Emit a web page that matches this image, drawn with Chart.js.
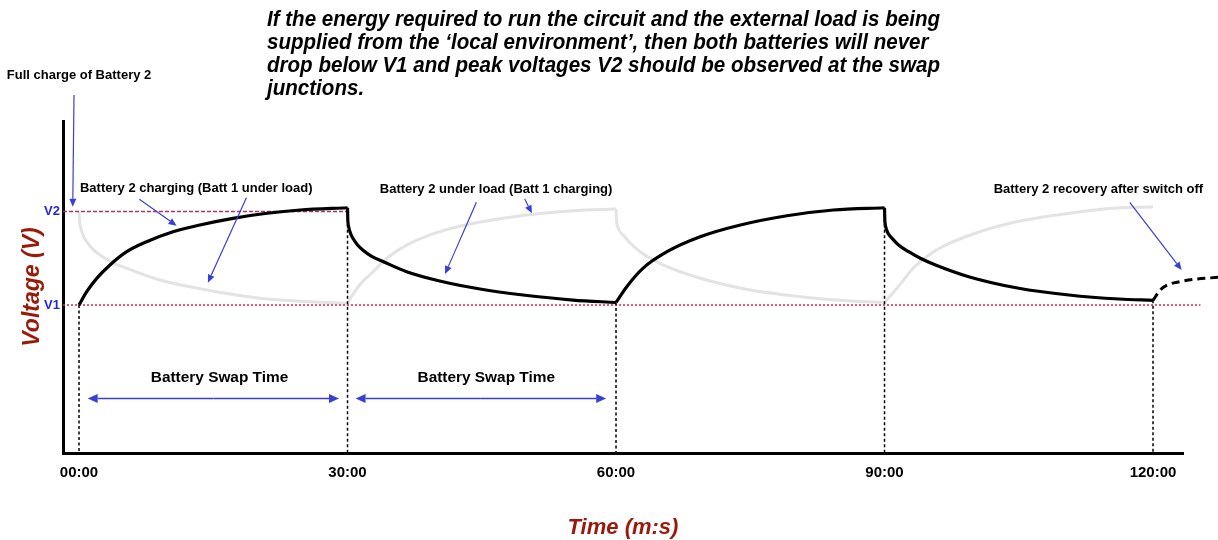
<!DOCTYPE html>
<html>
<head>
<meta charset="utf-8">
<title>Battery swap voltage</title>
<script src="https://cdn.jsdelivr.net/npm/chart.js@4.4.1/dist/chart.umd.min.js"></script>
<style>
    html, body { margin: 0; padding: 0; background: #fff; }
    #wrap { position: relative; width: 1218px; height: 540px; }
</style>
</head>
<body>
<div id="wrap"><canvas id="chart"></canvas></div>
<script>
// ---------------------------------------------------------------------------
// DONNÉES (temps en minutes, tension en unités V1 = 1, V2 = 2)
// ---------------------------------------------------------------------------

const TICK_TIMES  = [0, 30, 60, 90, 120];
const TICK_LABELS = ['00:00', '30:00', '60:00', '90:00', '120:00'];

const V1 = 1.0;
const V2 = 2.0;
const LEVEL_VALUES = [V1, V2];
const LEVEL_LABELS = ['V1', 'V2'];

// Battery 2 (courbe noire)
const BATT2_TIMES = [0, 0.86, 1.98, 3.46, 5.33, 7.56, 10.5, 13.5, 17.2, 21.0, 24.7, 30,
                     30.03, 30.06, 30.12, 30.3, 30.6, 31.1, 31.7, 32.7, 34.0, 36.6, 40.3, 44.8, 49.6, 55.2, 60,
                     61.2, 63.0, 65.7, 69.4, 73.9, 79.1, 84.3, 90,
                     90.03, 90.06, 90.12, 90.35, 90.85, 91.6, 92.7, 94.0, 95.7, 99.4, 105.0, 110.6, 116.2, 120];
const BATT2_VOLTS = [1.00, 1.142, 1.285, 1.428, 1.570, 1.677, 1.784, 1.856, 1.927, 1.981, 2.016, 2.04,
                     1.92, 1.875, 1.84, 1.775, 1.713, 1.645, 1.588, 1.52, 1.463, 1.356, 1.257, 1.171, 1.107, 1.053, 1.027,
                     1.196, 1.392, 1.570, 1.730, 1.856, 1.955, 2.016, 2.04,
                     1.92, 1.875, 1.84, 1.775, 1.713, 1.64, 1.570, 1.50, 1.428, 1.303, 1.179, 1.107, 1.064, 1.05];

// Battery 2 après coupure (pointillés)
const RECOVERY_TIMES = [120, 120.8, 121.6, 123.0, 124.8, 127.3];
const RECOVERY_VOLTS = [1.05, 1.16, 1.214, 1.25, 1.277, 1.296];

// Battery 1 (courbe grise)
const BATT1_TIMES = [0, 0.04, 0.08, 0.15, 0.45, 0.86, 1.5, 2.35, 3.6, 5.33, 9.05, 14.3, 20.2, 25.8, 30,
                     30.5, 31.4, 32.9, 34.4, 36.6, 40.3, 44.1, 50.0, 55.2, 60,
                     60.04, 60.08, 60.15, 60.4, 60.8, 61.6, 62.7, 64.0, 65.7, 69.4, 75.0, 80.6, 86.2, 90,
                     91.4, 93.2, 95.8, 99.6, 104.0, 109.3, 114.5, 120];
const BATT1_VOLTS = [1.998, 1.92, 1.875, 1.845, 1.745, 1.677, 1.60, 1.535, 1.46, 1.393, 1.267, 1.160, 1.072, 1.035, 1.018,
                     1.10, 1.22, 1.36, 1.50, 1.64, 1.784, 1.874, 1.963, 2.009, 2.027,
                     1.93, 1.885, 1.85, 1.79, 1.749, 1.66, 1.570, 1.49, 1.410, 1.286, 1.160, 1.089, 1.043, 1.029,
                     1.179, 1.393, 1.588, 1.749, 1.874, 1.963, 2.027, 2.051];

// Jonctions de swap (lignes verticales pointillées)
const SWAP_TIMES = [0, 30, 60, 90, 120];
const SWAP_TOPS  = [1.0, 2.04, 1.027, 2.04, 1.05];

// Étendue des lignes de niveau
const V1_SPAN = [-1.79, 125.3];
const V2_SPAN = [-1.79, 30];

// ---------------------------------------------------------------------------
// ANNOTATIONS (coordonnées en unités de données)
// ---------------------------------------------------------------------------

const TITLE_LINES = [
    'If the energy required to run the circuit and the external load is being',
    'supplied from the \u2018local environment\u2019, then both batteries will never',
    'drop below V1 and peak voltages V2 should be observed at the swap',
    'junctions.',
];

const NOTES = [
    { text: 'Full charge of Battery 2',               t: 0,     v: 3.46 },
    { text: 'Battery 2 charging (Batt 1 under load)', t: 13.1,  v: 2.251 },
    { text: 'Battery 2 under load (Batt 1 charging)', t: 46.6,  v: 2.241 },
    { text: 'Battery 2 recovery after switch off',    t: 113.9, v: 2.241 },
];

// [t départ, v départ, t pointe, v pointe]
const POINTERS = [
    [-0.56, 3.246, -0.7, 2.05],
    [6.74, 2.13, 10.9, 1.848],
    [18.7, 2.148, 14.4, 1.239],
    [44.4, 2.098, 40.9, 1.332],
    [49.8, 2.134, 50.6, 1.98],
    [117.4, 2.098, 123.2, 1.374],
];

const SWAP_SPANS   = [[0.97, 29.05], [30.9, 58.9]];
const SWAP_LEVEL   = 0;
const SWAP_LABEL_T = [15.7, 45.5];
const SWAP_LABEL_V = 0.219;

// ---------------------------------------------------------------------------
// STYLES
// ---------------------------------------------------------------------------

const FONT      = '"Liberation Sans", Arial, sans-serif';
const RED_TITLE = '#981a0b';
const BLUE_TXT  = '#2626d9';
const BLUE_ARW  = '#3a3fd4';
const GREY      = '#e3e3e3';

const X_MIN = -1.79, X_MAX = 123.35;
const Y_MIN = -0.583, Y_MAX = 2.968;

const pts = (ts, vs) => ts.map((t, i) => ({ x: t, y: vs[i] }));

// Découpe une série en phases (charge / décharge) aux instants de swap
function phases(ts, vs) {
    const all = pts(ts, vs);
    const out = [];
    for (let k = 0; k < SWAP_TIMES.length - 1; k++) {
        const a = SWAP_TIMES[k], b = SWAP_TIMES[k + 1];
        out.push(all.filter(p => p.x >= a && p.x <= b));
    }
    return out;
}

function verticalLines() {
    const out = [];
    SWAP_TIMES.forEach((t, i) => {
        out.push({ x: t, y: SWAP_TOPS[i] }, { x: t, y: Y_MIN }, { x: t, y: null });
    });
    return out;
}

function drawArrow(ctx, x1, y1, x2, y2, head, half) {
    const a = Math.atan2(y2 - y1, x2 - x1);
    const c = Math.cos(a), s = Math.sin(a);
    ctx.beginPath();
    ctx.moveTo(x1, y1);
    ctx.lineTo(x2 - head * c, y2 - head * s);
    ctx.stroke();
    ctx.beginPath();
    ctx.moveTo(x2, y2);
    ctx.lineTo(x2 - head * c + half * s, y2 - head * s - half * c);
    ctx.lineTo(x2 - head * c - half * s, y2 - head * s + half * c);
    ctx.closePath();
    ctx.fill();
}

const annotations = {
    id: 'annotations',
    afterDatasetsDraw(chart) {
        const { ctx, scales: { x, y } } = chart;
        ctx.save();

        // Flèches
        ctx.strokeStyle = BLUE_ARW;
        ctx.fillStyle   = BLUE_ARW;
        ctx.lineWidth   = 1.2;
        POINTERS.forEach(([t1, v1, t2, v2]) => {
            drawArrow(ctx, x.getPixelForValue(t1), y.getPixelForValue(v1),
                           x.getPixelForValue(t2), y.getPixelForValue(v2), 8, 3.5);
        });

        ctx.lineWidth = 1.6;
        const ys = y.getPixelForValue(SWAP_LEVEL);
        SWAP_SPANS.forEach(([a, b]) => {
            const xa = x.getPixelForValue(a), xb = x.getPixelForValue(b);
            const xm = (xa + xb) / 2;
            drawArrow(ctx, xm, ys, xb, ys, 10, 4.5);
            drawArrow(ctx, xm, ys, xa, ys, 10, 4.5);
        });

        // Textes
        ctx.fillStyle    = '#000';
        ctx.textAlign    = 'center';
        ctx.textBaseline = 'middle';
        ctx.font = `bold 13px ${FONT}`;
        NOTES.forEach(n => {
            ctx.fillText(n.text, x.getPixelForValue(n.t), y.getPixelForValue(n.v));
        });
        ctx.font = `bold 15.4px ${FONT}`;
        SWAP_LABEL_T.forEach(t => {
            ctx.fillText('Battery Swap Time', x.getPixelForValue(t), y.getPixelForValue(SWAP_LABEL_V));
        });

        // Titre principal (police étroite simulée)
        ctx.font = `italic bold 22px ${FONT}`;
        ctx.textAlign = 'left';
        const sx = 673 / ctx.measureText(TITLE_LINES[0]).width;
        TITLE_LINES.forEach((line, i) => {
            ctx.save();
            ctx.translate(267, 20 + i * 23);
            ctx.scale(sx, 1);
            ctx.fillText(line, 0, 0);
            ctx.restore();
        });

        ctx.restore();
    },
};

const lineBase = {
    pointRadius: 0,
    pointHoverRadius: 0,
    clip: false,
    fill: false,
};

const curve = (label, data, color, width) => ({
    ...lineBase, label, data,
    borderColor: color, borderWidth: width, cubicInterpolationMode: 'monotone',
});

new Chart(document.getElementById('chart'), {
    type: 'line',
    data: {
        datasets: [
            ...phases(BATT2_TIMES, BATT2_VOLTS).map((d, i) => curve(`Battery 2 (${i + 1})`, d, '#000', 3.2)),
            { ...curve('Recovery', pts(RECOVERY_TIMES, RECOVERY_VOLTS), '#000', 3), borderDash: [8, 5] },
            { ...lineBase, label: 'Swap', data: verticalLines(),
              borderColor: '#000', borderWidth: 1.5, borderDash: [3, 2.5], spanGaps: false, tension: 0 },
            { ...lineBase, label: 'V2', data: V2_SPAN.map(t => ({ x: t, y: V2 })),
              borderColor: '#a3386f', borderWidth: 1.5, borderDash: [4, 2], tension: 0 },
            { ...lineBase, label: 'V1', data: V1_SPAN.map(t => ({ x: t, y: V1 })),
              borderColor: '#e0253f', borderWidth: 1.5, borderDash: [2, 2], tension: 0 },
            ...phases(BATT1_TIMES, BATT1_VOLTS).map((d, i) => curve(`Battery 1 (${i + 1})`, d, GREY, 3)),
        ],
    },
    options: {
        responsive: true,
        maintainAspectRatio: false,
        animation: false,
        devicePixelRatio: 1,
        events: [],
        layout: { padding: { top: 121, right: 35, left: 0, bottom: 0 } },
        plugins: {
            legend:  { display: false },
            tooltip: { enabled: false },
        },
        scales: {
            x: {
                type: 'linear',
                bounds: 'data',
                afterDataLimits(s) { s.min = X_MIN; s.max = X_MAX; },
                afterBuildTicks(s) { s.ticks = TICK_TIMES.map(v => ({ value: v })); },
                afterFit(s) { s.height = 87; },
                grid:   { display: false, drawTicks: false },
                border: { display: true, color: '#000', width: 3 },
                ticks: {
                    autoSkip: false,
                    maxRotation: 0,
                    padding: 11,
                    color: '#000',
                    font: { family: FONT, size: 15, weight: 'bold' },
                    callback: (val, i) => TICK_LABELS[i],
                },
                title: {
                    display: true,
                    text: 'Time (m:s)',
                    color: RED_TITLE,
                    padding: 0,
                    font: { family: FONT, size: 22, weight: 'bold', style: 'italic', lineHeight: 1.1 },
                },
            },
            y: {
                type: 'linear',
                min: Y_MIN,
                max: Y_MAX,
                afterBuildTicks(s) { s.ticks = LEVEL_VALUES.map(v => ({ value: v })); },
                afterFit(s) { s.width = 63; },
                grid:   { display: false, drawTicks: false },
                border: { display: true, color: '#000', width: 3 },
                ticks: {
                    padding: 3,
                    color: BLUE_TXT,
                    font: { family: FONT, size: 13, weight: 'bold' },
                    callback: (val, i) => LEVEL_LABELS[i],
                },
                title: {
                    display: true,
                    text: 'Voltage (V)',
                    color: RED_TITLE,
                    padding: { top: 19, bottom: 0 },
                    font: { family: FONT, size: 23, weight: 'bold', style: 'italic' },
                },
            },
        },
    },
    plugins: [annotations],
});
</script>
</body>
</html>
